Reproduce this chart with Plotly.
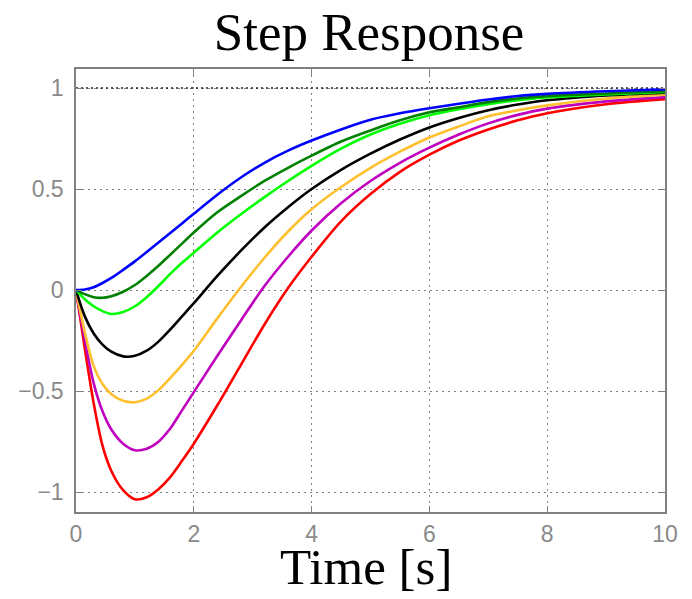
import plotly.graph_objects as go

t = [0, 0.15, 0.3, 0.45, 0.6, 0.8, 1.0, 1.2, 1.4, 1.6, 1.8, 2.0, 2.4, 2.8, 3.2, 3.6,
     4.0, 4.5, 5.0, 5.5, 6.0, 6.5, 7.0, 7.5, 8.0, 9.0, 10.0]

y_red = [0, -0.29, -0.56, -0.77, -0.895, -0.99, -1.035, -1.025, -0.985, -0.925, -0.845, -0.76, -0.57, -0.37,
         -0.17, 0.01, 0.165, 0.34, 0.475, 0.585, 0.67, 0.74, 0.795, 0.84, 0.875, 0.92, 0.945]
y_purple = [0, -0.25, -0.46, -0.60, -0.69, -0.76, -0.792, -0.785, -0.75, -0.685, -0.595, -0.505, -0.325, -0.15,
            0.02, 0.165, 0.295, 0.43, 0.54, 0.63, 0.705, 0.77, 0.825, 0.867, 0.898, 0.934, 0.955]
y_orange = [0, -0.21, -0.375, -0.465, -0.515, -0.548, -0.555, -0.537, -0.495, -0.435, -0.37, -0.30, -0.14, 0.015,
            0.16, 0.29, 0.40, 0.51, 0.605, 0.685, 0.755, 0.81, 0.86, 0.89, 0.914, 0.948, 0.967]
y_black = [0, -0.13, -0.215, -0.27, -0.305, -0.328, -0.325, -0.30, -0.255, -0.195, -0.13, -0.065, 0.07, 0.195,
           0.31, 0.41, 0.50, 0.595, 0.675, 0.745, 0.805, 0.852, 0.89, 0.918, 0.939, 0.963, 0.977]
y_green = [0, -0.045, -0.08, -0.104, -0.118, -0.108, -0.08, -0.035, 0.02, 0.08, 0.135, 0.185, 0.285, 0.375,
           0.46, 0.54, 0.615, 0.70, 0.77, 0.823, 0.865, 0.895, 0.92, 0.94, 0.953, 0.968, 0.98]
y_dgreen = [0, -0.02, -0.035, -0.038, -0.03, -0.008, 0.025, 0.07, 0.12, 0.175, 0.23, 0.285, 0.385, 0.465,
            0.54, 0.605, 0.665, 0.735, 0.79, 0.84, 0.88, 0.905, 0.93, 0.948, 0.96, 0.973, 0.984]
y_blue = [0, 0.003, 0.014, 0.035, 0.06, 0.10, 0.142, 0.188, 0.235, 0.283, 0.33, 0.378, 0.472, 0.557,
          0.63, 0.69, 0.74, 0.795, 0.843, 0.875, 0.90, 0.922, 0.943, 0.96, 0.971, 0.984, 0.993]

series = [
    ("red", y_red, "#ff0000"),
    ("purple", y_purple, "#bf00bf"),
    ("orange", y_orange, "#ffc030"),
    ("black", y_black, "#000000"),
    ("green", y_green, "#00ff00"),
    ("darkgreen", y_dgreen, "#008000"),
    ("blue", y_blue, "#0000ff"),
]

steady_x = [0, 10]
steady_y = [1, 1]

x_ticks = [0, 2, 4, 6, 8, 10]
y_ticks = [-1, -0.5, 0, 0.5, 1]
y_ticklabels = ["\u22121", "\u22120.5", "0", "0.5", "1"]

fig = go.Figure()
fig.add_trace(go.Scatter(x=steady_x, y=steady_y, mode="lines",
                         line=dict(color="#222222", width=1.3, dash="2px,3px"),
                         showlegend=False, hoverinfo="skip"))
for name, ys, col in series:
    fig.add_trace(go.Scatter(x=t, y=ys, mode="lines", name=name,
                             line=dict(color=col, width=2.6, shape="spline", smoothing=0.8),
                             showlegend=False))

axis_common = dict(
    showline=True, linecolor="#808080", linewidth=1.5, mirror="ticks",
    ticks="inside", ticklen=6, tickwidth=1.2, tickcolor="#808080",
    showgrid=True, gridcolor="#808080", gridwidth=1, griddash="1.5px,4.5px",
    zeroline=False, automargin=False,
    tickfont=dict(family="Liberation Sans, Arial, sans-serif", size=23, color="#8a8a8a"),
)

serif = "Liberation Serif, Times New Roman, serif"

fig.update_layout(
    width=692, height=599,
    margin=dict(l=76, r=27, t=69, b=87),
    paper_bgcolor="white", plot_bgcolor="white",
    title=dict(text="Step Response",
               font=dict(family=serif, size=53, color="black"),
               x=0.4975, xanchor="center", xref="paper",
               y=1 - 50 / 599, yanchor="bottom", yref="container"),
    xaxis=dict(range=[0, 10], tickvals=x_ticks, ticktext=[str(v) for v in x_ticks],
               ticklabelstandoff=1, **axis_common),
    yaxis=dict(range=[-1.098, 1.094], tickvals=y_ticks, ticktext=y_ticklabels,
               ticklabelstandoff=6, **axis_common),
    annotations=[dict(text="Time [s]", xref="paper", yref="paper",
                      x=0.493, y=-0.193, xanchor="center", yanchor="bottom",
                      showarrow=False, font=dict(family=serif, size=51, color="black"))],
)

fig.write_html("out.html")
